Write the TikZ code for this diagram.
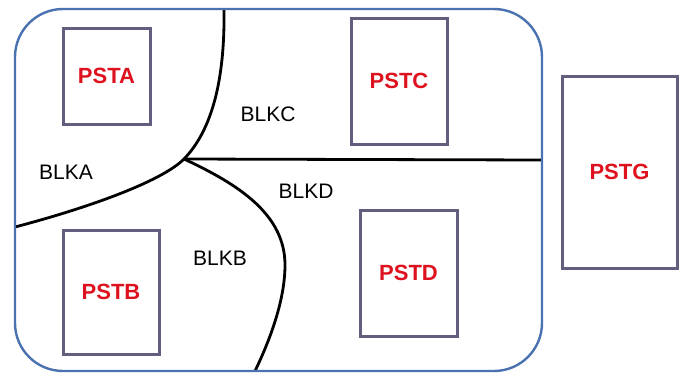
\documentclass[tikz,border=0pt]{standalone}
\usepackage{fontspec}
\setmainfont{Liberation Sans}
\definecolor{frameblue}{RGB}{74,114,176}
\definecolor{boxgray}{RGB}{98,94,126}
\definecolor{pstred}{RGB}{222,18,30}
\tikzset{
  pst/.style={draw=boxgray, line width=3pt, fill=white, inner sep=0pt,
    font=\fontsize{22}{26}\selectfont\bfseries, text=pstred},
  blk/.style={inner sep=0pt, font=\fontsize{21}{25}\selectfont, text=black},
  border/.style={black, line width=2.8pt},
}
\begin{document}
\begin{tikzpicture}[x=1pt, y=-1pt]
\useasboundingbox (0,0) rectangle (685,373);

% block boundaries
\coordinate (J) at (184,159);
\coordinate (Ttop) at (224,9);
\coordinate (Lleft) at (15,227);
\coordinate (Rright) at (542,160);
\coordinate (Mid) at (285,265);
\coordinate (Bbot) at (255,371);
\draw[border] (Ttop) .. controls (225,80) and (212,130) .. (J)
  .. controls (160,183) and (80,210) .. (Lleft);
\draw[border] (J) -- (Rright);
\draw[border] (J) .. controls (240,185) and (285,215) .. (Mid)
  .. controls (285,300) and (270,340) .. (Bbot);

% outer frame
\draw[frameblue, line width=2.4pt, rounded corners=48pt] (15,9) rectangle (542,371);

% placement boxes
\node[pst, minimum width=87pt, minimum height=96pt] (psta) at (106.5,76) {PSTA};
\node[pst, minimum width=96pt, minimum height=124pt] (pstb) at (111,292) {PSTB};
\node[pst, minimum width=96pt, minimum height=126pt] (pstc) at (399,81) {PSTC};
\node[pst, minimum width=97pt, minimum height=126pt] (pstd) at (408.5,273) {PSTD};
\node[pst, minimum width=115pt, minimum height=192pt] (pstg) at (619.5,172) {PSTG};

% block labels
\node[blk] (blka) at (66,172) {BLKA};
\node[blk] (blkb) at (220,258) {BLKB};
\node[blk] (blkc) at (268,114) {BLKC};
\node[blk] (blkd) at (306,191) {BLKD};
\end{tikzpicture}
\end{document}
